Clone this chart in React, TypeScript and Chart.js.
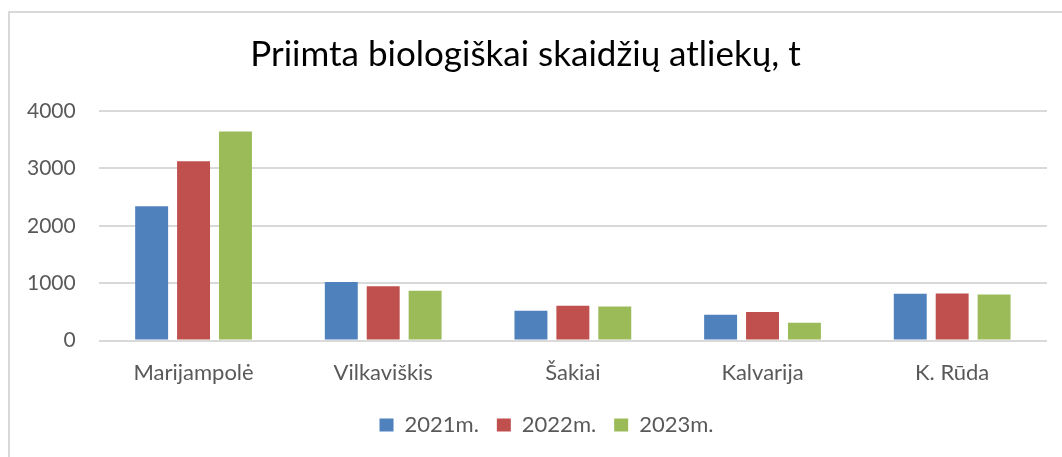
import React, { useEffect, useRef } from "react";
import { Chart, registerables } from "chart.js";

Chart.register(...registerables);

const categories = ["Marijampolė", "Vilkaviškis", "Šakiai", "Kalvarija", "K. Rūda"];
const seriesNames = ["2021m.", "2022m.", "2023m."];
const values2021 = [2340, 1020, 520, 450, 815];
const values2022 = [3125, 945, 605, 500, 820];
const values2023 = [3645, 870, 595, 310, 805];
const yTicks = [0, 1000, 2000, 3000, 4000];
const colors = ["#4F81BD", "#C0504D", "#9BBB59"];

const legendShift = {
  id: "legendShift",
  afterLayout(chart: any) {
    if (chart.legend) {
      chart.legend.left += 21;
      chart.legend.right += 21;
    }
  },
};

export default function App() {
  const ref = useRef<HTMLCanvasElement | null>(null);
  useEffect(() => {
    if (!ref.current) return;
    const font = "Lato";
    const chart = new Chart(ref.current, {
      type: "bar",
      data: {
        labels: categories,
        datasets: [values2021, values2022, values2023].map((v, i) => ({
          label: seriesNames[i],
          data: v,
          backgroundColor: colors[i],
          borderWidth: 0,
          categoryPercentage: 0.663,
          barPercentage: 0.786,
        })),
      },
      plugins: [legendShift],
      options: {
        animation: false,
        responsive: false,
        maintainAspectRatio: false,
        layout: { padding: { top: 34, left: 4, right: 15, bottom: 11 } },
        plugins: {
          tooltip: { enabled: false },
          title: {
            display: true,
            text: "Priimta biologiškai skaidžių atliekų, t",
            color: "#000000",
            font: { family: font, size: 35, weight: "normal" },
            padding: { top: 0, bottom: 35 },
          },
          legend: {
            position: "bottom",
            labels: {
              color: "#595959",
              font: { family: font, size: 22 },
              boxWidth: 14,
              boxHeight: 13,
              padding: 18,
            },
          },
        },
        scales: {
          x: {
            grid: { display: false },
            border: { display: false },
            ticks: { color: "#595959", font: { family: font, size: 22 }, padding: 11 },
            afterFit: (axis: any) => {
              axis.height = axis.height - 1;
            },
          },
          y: {
            min: 0,
            max: 4000,
            afterBuildTicks: (axis: any) => {
              axis.ticks = yTicks.map((v) => ({ value: v }));
            },
            grid: { color: "#d9d9d9", lineWidth: 2, drawTicks: false },
            border: { display: false },
            ticks: {
              color: "#595959",
              font: { family: font, size: 21 },
              padding: 23,
              callback: (v: any) => String(v),
            },
          },
        },
      },
    });
    return () => chart.destroy();
  }, []);
  return (
    <>
      <canvas
        ref={ref}
        width={1062}
        height={457}
        style={{ position: "fixed", left: 0, top: 0, width: 1062, height: 457 }}
      />
      <div
        style={{
          position: "fixed",
          left: 8,
          top: 11,
          width: 1200,
          height: 800,
          border: "2px solid #d9d9d9",
          pointerEvents: "none",
        }}
      />
    </>
  );
}
